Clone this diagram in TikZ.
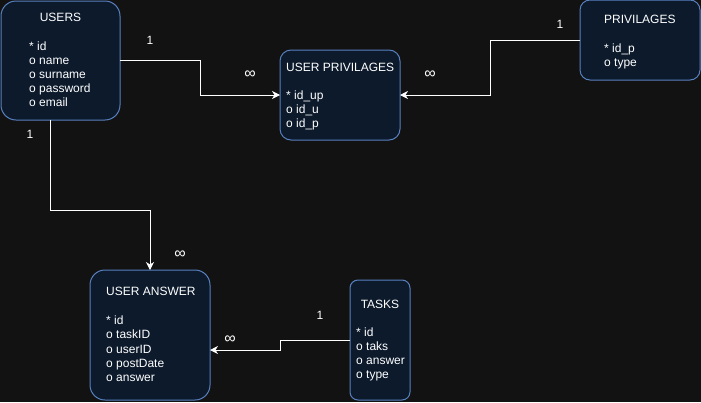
\documentclass[tikz,border=0pt]{standalone}
\usepackage{fontspec}
\setmainfont{Liberation Sans}
\usetikzlibrary{arrows.meta}
\definecolor{bgdark}{RGB}{18,18,18}
\definecolor{boxfill}{RGB}{12,26,44}
\definecolor{boxline}{RGB}{88,128,190}
\tikzset{entity/.style={draw=boxline, fill=boxfill, line width=1pt,
         inner sep=0pt, outer sep=0pt, anchor=north west},
         txt/.style={text=white, inner sep=0pt, font=\fontsize{12}{14}\selectfont},
         field/.style={txt, anchor=base west},
         card/.style={txt},
         inf/.style={txt, font=\fontsize{16}{18}\selectfont},
         link/.style={draw=white, line width=1pt,
         -{Stealth[length=8pt,width=8pt,inset=2.5pt]}}}

\begin{document}
\begin{tikzpicture}[x=1pt,y=-1pt]
        \useasboundingbox (0,0) rectangle (701,402);
        \fill[bgdark] (0,0) rectangle (701,402);

        % Entities
        \node[entity, minimum width=119pt, minimum height=119pt, rounded corners=15pt] (users) at (1,1) {};
        \node[entity, minimum width=120pt, minimum height=90pt, rounded corners=11pt] (up) at (280,50) {};
        \node[entity, minimum width=120pt, minimum height=80pt, rounded corners=10pt] (priv) at (580,0) {};
        \node[entity, minimum width=120pt, minimum height=130pt, rounded corners=15pt] (ua) at (90,270) {};
        \node[entity, minimum width=60pt, minimum height=120pt, rounded corners=8pt] (tasks) at (350,280) {};

        % USERS
        \node[txt, anchor=base] (users-title) at (60.5,21) {USERS};
        \node[field] (users-id) at (29,50) {* id};
        \node[field] (users-name) at (29,64.2) {o name};
        \node[field] (users-surname) at (29,78.4) {o surname};
        \node[field] (users-password) at (29,92.6) {o password};
        \node[field] (users-email) at (29,106.8) {o email};

        % USER PRIVILAGES
        \node[field] (up-title) at (286,71) {USER PRIVILAGES};
        \node[field] (up-idup) at (286,99.5) {* id\_up};
        \node[field] (up-idu) at (286,113.7) {o id\_u};
        \node[field] (up-idp) at (286,127.9) {o id\_p};

        % PRIVILAGES
        \node[field] (priv-title) at (604,23.5) {PRIVILAGES};
        \node[field] (priv-idp) at (604,52.3) {* id\_p};
        \node[field] (priv-type) at (604,66.5) {o type};

        % USER ANSWER
        \node[field] (ua-title) at (106,295.5) {USER ANSWER};
        \node[field] (ua-id) at (106,324.2) {* id};
        \node[field] (ua-taskid) at (106,338.6) {o taskID};
        \node[field] (ua-userid) at (106,353) {o userID};
        \node[field] (ua-postdate) at (106,367.4) {o postDate};
        \node[field] (ua-answer) at (106,381.8) {o answer};

        % TASKS
        \node[txt, anchor=base] (tasks-title) at (380,308) {TASKS};
        \node[field] (tasks-id) at (356,336) {* id};
        \node[field] (tasks-taks) at (356,350.2) {o taks};
        \node[field] (tasks-answer) at (356,364.4) {o answer};
        \node[field] (tasks-type) at (356,378.6) {o type};

        % Connectors
        \draw[link] (users.east) -- ++(80,0) |- (up.west);
        \draw[link] (priv.west) -- ++(-90,0) |- (up.east);
        \draw[link] ([xshift=-10.5pt]users.south) -- ++(0,90) -| (ua.north);
        \draw[link] (tasks.west) -- ++(-70,0) |- ([yshift=-15pt]ua.east);

        % Cardinalities
        \node[card] (c-users-up) at (150,40) {1};
        \node[inf] (m-users-up) at (250,75) {∞};
        \node[card] (c-priv-up) at (560,24) {1};
        \node[inf] (m-priv-up) at (430,75) {∞};
        \node[card] (c-users-ua) at (30,134) {1};
        \node[inf] (m-users-ua) at (180,255) {∞};
        \node[card] (c-tasks-ua) at (320,315) {1};
        \node[inf] (m-tasks-ua) at (230,340) {∞};
    \end{tikzpicture}
\end{document}
